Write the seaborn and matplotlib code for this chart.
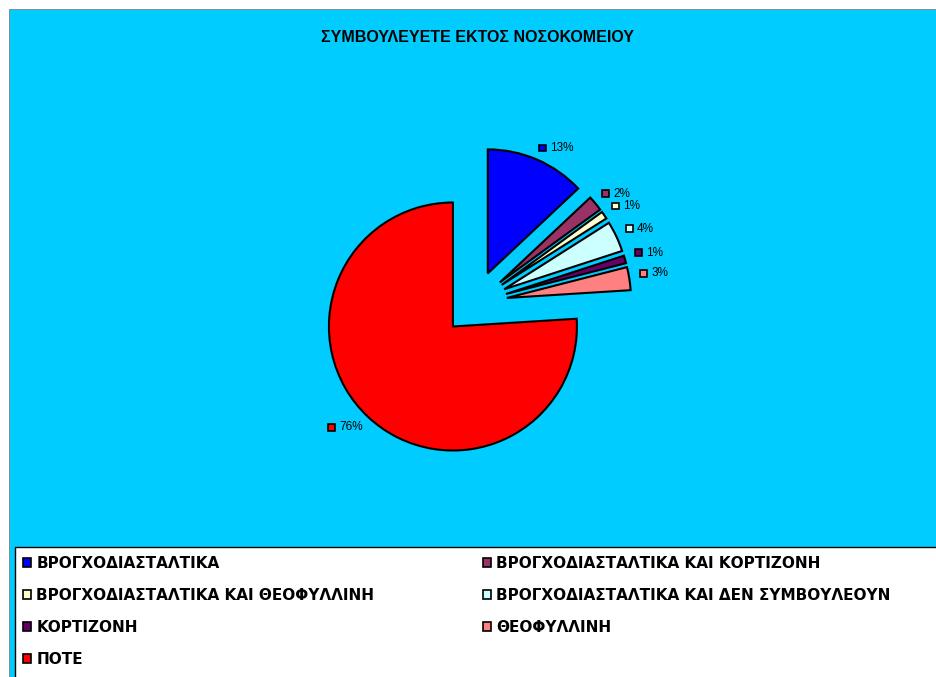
import numpy as np
import matplotlib
matplotlib.use("Agg")
import matplotlib.pyplot as plt
import seaborn as sns
from matplotlib.patches import Rectangle
from matplotlib.offsetbox import AnnotationBbox, HPacker, TextArea, DrawingArea

# Data
categories = [
    "ΒΡΟΓΧΟΔΙΑΣΤΑΛΤΙΚΑ",
    "ΒΡΟΓΧΟΔΙΑΣΤΑΛΤΙΚΑ ΚΑΙ ΚΟΡΤΙΖΟΝΗ",
    "ΒΡΟΓΧΟΔΙΑΣΤΑΛΤΙΚΑ ΚΑΙ ΘΕΟΦΥΛΛΙΝΗ",
    "ΒΡΟΓΧΟΔΙΑΣΤΑΛΤΙΚΑ ΚΑΙ ΔΕΝ ΣΥΜΒΟΥΛΕΟΥΝ",
    "ΚΟΡΤΙΖΟΝΗ",
    "ΘΕΟΦΥΛΛΙΝΗ",
    "ΠΟΤΕ",
]
shares = [13, 2, 1, 4, 1, 3, 76]
colors = ["#0000FF", "#993366", "#FFFFCC", "#CCFFFF", "#660066", "#FF8080", "#FF0000"]
title = "ΣΥΜΒΟΥΛΕΥΕΤΕ ΕΚΤΟΣ ΝΟΣΟΚΟΜΕΙΟΥ"

sns.set_theme(style="white")
plt.rcParams["font.family"] = ["Liberation Sans", "DejaVu Sans"]
plt.rcParams["text.color"] = "black"

W, H, DPI = 936, 677, 100
fig = plt.figure(figsize=(W / DPI, H / DPI), dpi=DPI)
fig.patch.set_facecolor("white")

# chart area background
fig.add_artist(Rectangle((9 / W, -0.01), 1.0, (H - 9) / H + 0.01,
                         transform=fig.transFigure, facecolor="#00CCFF",
                         edgecolor="#808080", lw=0.6, zorder=0))
# legend panel
fig.add_artist(Rectangle((15 / W, -0.01), 1.0, (H - 547) / H + 0.01,
                         transform=fig.transFigure, facecolor="white",
                         edgecolor="black", lw=1.0, zorder=1))

ax = fig.add_axes([0, 0, 1, 1])
ax.set_facecolor("none")

wedges, _ = ax.pie(shares, colors=colors, startangle=90, counterclock=False,
                   explode=[0.26] * len(shares), radius=1.0,
                   wedgeprops=dict(edgecolor="black", linewidth=1.5))

# one data unit = R pixels, pie centre at (cx, cy) from the top-left corner
R = 124
cx, cy = 475, 303
ax.set_xlim(-cx / R, (W - cx) / R)
ax.set_ylim(-(H - cy) / R, cy / R)
ax.axis("off")

# percentage labels with colour keys
for w, v, c in zip(wedges, shares, colors):
    th = np.deg2rad((w.theta1 + w.theta2) / 2 + 1.5)
    x0, y0 = w.center
    px, py = x0 + 1.09 * np.cos(th), y0 + 1.09 * np.sin(th)
    da = DrawingArea(6, 6, 0, 0)
    da.add_artist(Rectangle((0.5, 0.5), 5, 5, facecolor=c, edgecolor="black", lw=1.2))
    ta = TextArea(f"{v}%", textprops=dict(fontsize=8.5, family="Liberation Sans", color="black"))
    box = HPacker(children=[da, ta], sep=2.5, align="center", pad=0)
    align = (0, 0.5) if np.cos(th) >= 0 else (1, 0.5)
    ax.add_artist(AnnotationBbox(box, (px, py), box_alignment=align,
                                 frameon=False, pad=0))

fig.text(478 / W, 1 - 38 / H, title, ha="center", va="center",
         fontsize=11.5, fontweight="bold", family="Liberation Sans", color="black")

order = [0, 2, 4, 6, 1, 3, 5]
leg = fig.legend([wedges[i] for i in order], [categories[i] for i in order],
                 ncol=2, loc="upper left", bbox_to_anchor=(23 / W, 1 - 556 / H),
                 frameon=False, borderpad=0, borderaxespad=0,
                 prop=dict(family="DejaVu Sans", weight="bold", size=11),
                 handlelength=0.52, handleheight=0.52, handletextpad=0.35,
                 labelspacing=1.11, columnspacing=7.1, labelcolor="black")
leg.set_zorder(3)
for h in leg.legend_handles:
    h.set_linewidth(1.2)

fig.savefig("out.png", dpi=DPI)
